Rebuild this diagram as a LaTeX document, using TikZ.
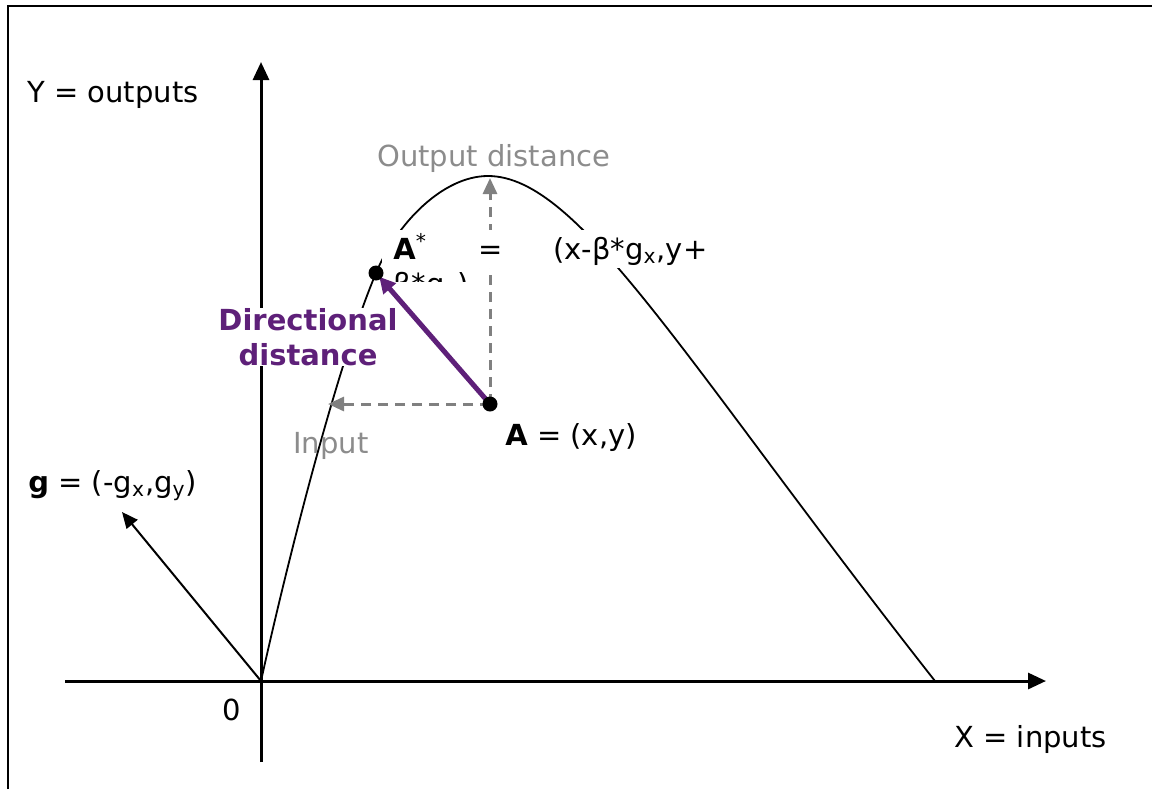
\documentclass[tikz,border=0pt]{standalone}
\usepackage{fontspec}
\setmainfont{DejaVu Sans}
\usetikzlibrary{arrows.meta}
\definecolor{ink}{HTML}{000000}
\definecolor{guide}{HTML}{808080}
\definecolor{guidetext}{HTML}{8C8C8C}
\definecolor{dirpurple}{HTML}{5E2079}

\begin{document}
\begin{tikzpicture}[
  x=0.5pt, y=-0.5pt,
  font=\fontsize{14.5}{17.5}\selectfont,
  axis/.style={draw=ink,line width=1.5pt,-{Triangle[length=9pt,width=8pt]}},
  front/.style={draw=ink,line width=0.9pt},
  vec/.style={draw=ink,line width=1pt,-{Triangle[length=8pt,width=7pt]}},
  guideline/.style={draw=guide,line width=1.5pt,dash pattern=on 5pt off 3.5pt,
                    -{Triangle[length=8pt,width=7pt]}},
  dirline/.style={draw=dirpurple,line width=2.5pt,shorten >=2.5pt,
                  -{Triangle[length=8pt,width=8pt]}},
  dot/.style={circle,fill=ink,inner sep=0pt,minimum size=7.5pt},
  lbl/.style={anchor=base west,inner sep=0pt},
  soft/.style={lbl,text=guidetext},
]
\useasboundingbox (0,0) rectangle (1152,789);
\draw[line width=1pt] (8,789) -- (8,6) -- (1152,6);

% --- key points --------------------------------------------------------------
\coordinate (O)     at (261,681);
\coordinate (xfrom) at (65,681);
\coordinate (xtip)  at (1046,681);
\coordinate (yfrom) at (261,762);
\coordinate (ytip)  at (261,62);
\coordinate (gtip)  at (122,512);
\coordinate (A)     at (490,404);
\coordinate (Astar) at (376,273);
\coordinate (peak)  at (488,176);
\coordinate (xcut)  at (935,681);
\coordinate (inhit) at (328,404);
\coordinate (outhit) at (490,178);

% --- axes and direction vector -----------------------------------------------
\draw[axis] (xfrom) -- (xtip);
\draw[axis] (yfrom) -- (ytip);
\draw[vec] (O) -- (gtip);

% --- the frontier ------------------------------------------------------------
\draw[front] (O) .. controls (283,581) and (334,373) .. (Astar)
  .. controls (397,223) and (443,176) .. (peak)
  .. controls (580,176) and (685,363) .. (xcut);

% --- distances from A --------------------------------------------------------
\draw[guideline] (A) -- (inhit);
\draw[guideline] (A) -- (outhit);
\draw[dirline] (A) -- (Astar);

% --- labels ------------------------------------------------------------------
\node[lbl] (ylabel) at (27,102) {Y = outputs};
\node[lbl] (xlabel) at (954,747) {X = inputs};
\node[anchor=base,inner sep=0pt] (zero) at (232,720) {0};
\node[lbl] (glabel) at (28,492) {\textbf{g} = (-g\textsubscript{x},g\textsubscript{y})};
\node[lbl] (alabel) at (505,445) {\textbf{A} = (x,y)};
\node[soft] (outlabel) at (377,166) {Output distance};
\node[soft] (inlabel) at (293,453) {Input};
\node[anchor=north,inner sep=0pt,fill=white,align=center,text=dirpurple,
      font=\fontsize{14.5}{17.5}\selectfont\bfseries] (dirlabel) at (308,308)
      {Directional\\distance};
\node[lbl,fill=white,text height=14.5pt,text depth=4.5pt] (astarlabel) at (382,259)
  {\hspace*{5.5pt}\makebox[157pt]{\textbf{A}\textsuperscript{*}\hfill=\hfill
   (x-β*g\textsubscript{x},y+}\hspace*{19pt}};
\begin{scope}
  \clip (382,268) rectangle (745,281);
  \node[lbl] (astarrest) at (393,294) {β*g\textsubscript{y})};
\end{scope}

% --- points ------------------------------------------------------------------
\node[dot] (adot) at (A) {};
\node[dot] (astardot) at (Astar) {};
\end{tikzpicture}
\end{document}
